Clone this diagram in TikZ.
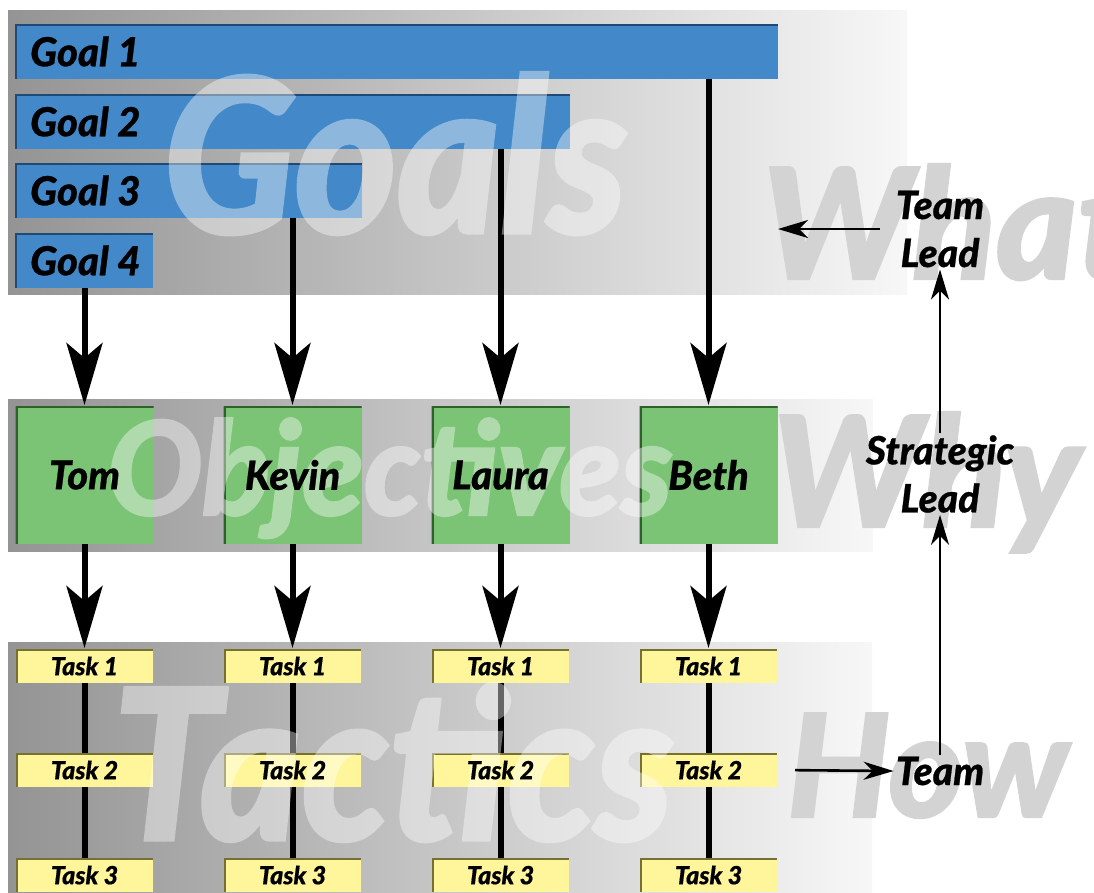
\documentclass[tikz,border=0pt]{standalone}
\usepackage{fontspec}
\newfontfamily\lblfont{Lato Black Italic}[FakeBold=0.6]
\newfontfamily\wmfont{Lato Black Italic}[FakeBold=1.6]
\usetikzlibrary{arrows.meta}
\definecolor{goalblue}{HTML}{4388C8}
\definecolor{goaledge}{HTML}{1E4A75}
\definecolor{objgreen}{HTML}{7BC475}
\definecolor{objedge}{HTML}{2F5F2B}
\definecolor{taskyellow}{HTML}{FFF59B}
\definecolor{taskedge}{HTML}{77712F}
\definecolor{wmgrey}{HTML}{D3D3D3}
\newcommand{\hs}[2]{\scalebox{#1}[1]{#2}}
\begin{document}
\begin{tikzpicture}[x=1pt,y=-1pt,
  band/.style={left color=black!42, middle color=black!13, right color=white!97!black},
  boxbase/.style={inner sep=0pt, outer sep=0pt, draw=none},
  edged/.style={path picture={\draw[line width=4pt,#1]
      (path picture bounding box.south west) -- (path picture bounding box.north west)
      -- (path picture bounding box.north east);}},
  goalbox/.style={boxbase, fill=goalblue, edged=goaledge, minimum height=55pt},
  objbox/.style={boxbase, fill=objgreen, edged=objedge, minimum width=138pt, minimum height=138pt},
  taskbox/.style={boxbase, fill=taskyellow, edged=taskedge, minimum width=137pt, minimum height=34pt},
  lbl/.style={inner sep=0pt, font=\lblfont\fontsize{40}{44}\selectfont},
  tlbl/.style={inner sep=0pt, font=\lblfont\fontsize{25}{28}\selectfont},
  side/.style={inner sep=2pt, align=center, font=\lblfont\fontsize{39}{48}\selectfont},
  wmwhite/.style={inner sep=0pt, anchor=base west, text=white},
  wmg/.style={inner sep=0pt, anchor=base west, text=wmgrey},
  bigarrow/.style={line width=6pt, -{Stealth[length=62pt,width=36pt,inset=15pt]}, shorten >=1pt},
  stem/.style={line width=6pt},
  thinarrow/.style={line width=2.6pt, -{Stealth[length=30pt,width=18pt,inset=9pt]}}
]
\useasboundingbox (0,0) rectangle (1094,892);
\clip (0,0) rectangle (1094,892);
% bands
\shade[band] (8,10) rectangle (907,294);
\shade[band] (8,399) rectangle (873,551);
\shade[band] (8,642) rectangle (872,892);
% goal bars
\node[goalbox, minimum width=763pt] (goal1) at (396.5,51.5) {};
\node[goalbox, minimum width=555pt] (goal2) at (292.5,121.5) {};
\node[goalbox, minimum width=347pt] (goal3) at (188.5,190.5) {};
\node[goalbox, minimum width=138pt] (goal4) at (84,260.5) {};
% objective boxes
\foreach \n/\x in {tom/84.5, kevin/292.5, laura/500.5, beth/708.5}{
  \node[objbox] (\n) at (\x,475) {};
  \node[taskbox] (\n1) at (\x,666) {};
  \node[taskbox] (\n2) at (\x,770) {};
  \node[taskbox] (\n3) at (\x,875) {};
}
% connectors
\draw[bigarrow] (goal4.south -| tom.north) -- (tom.north);
\draw[bigarrow] (goal3.south -| kevin.north) -- (kevin.north);
\draw[bigarrow] (goal2.south -| laura.north) -- (laura.north);
\draw[bigarrow] (goal1.south -| beth.north) -- (beth.north);
\foreach \n in {tom,kevin,laura,beth}{
  \draw[bigarrow] (\n.south) -- (\n1.north);
  \draw[stem] (\n1.south) -- (\n2.north);
  \draw[stem] (\n2.south) -- (\n3.north);
}
% watermarks
\begin{scope}[transparency group, opacity=0.4]
\node[wmwhite, font=\wmfont\fontsize{215}{215}\selectfont] (wgoals) at (163,233) {\hs{0.91}{Goals}};
\end{scope}
\begin{scope}[transparency group, opacity=0.4]
\node[wmwhite, font=\wmfont\fontsize{130}{130}\selectfont] (wobj) at (107,515) {\hs{0.97}{Objectives}};
\end{scope}
\begin{scope}[transparency group, opacity=0.4]
\node[wmwhite, font=\wmfont\fontsize{210}{210}\selectfont] (wtac) at (112,840) {\hs{0.92}{Tactics}};
\end{scope}
\node[wmg, font=\wmfont\fontsize{154}{154}\selectfont] (wwhat) at (762,279) {What};
\node[wmg, font=\wmfont\fontsize{154}{154}\selectfont] (wwhy) at (772,527) {Why};
\node[wmg, font=\wmfont\fontsize{143}{143}\selectfont] (whow) at (787,817) {How};
% labels on boxes
\node[lbl, anchor=west] (g1t) at ([xshift=15pt]goal1.west) {Goal 1};
\node[lbl, anchor=west] (g2t) at ([xshift=15pt]goal2.west) {Goal 2};
\node[lbl, anchor=west] (g3t) at ([xshift=15pt]goal3.west) {Goal 3};
\node[lbl, anchor=west] (g4t) at ([xshift=15pt]goal4.west) {Goal 4};
\node[lbl] (tomt) at (tom.center) {Tom};
\node[lbl] (kevint) at (kevin.center) {Kevin};
\node[lbl] (laurat) at (laura.center) {Laura};
\node[lbl] (betht) at (beth.center) {Beth};
\foreach \n in {tom,kevin,laura,beth}{
  \node[tlbl] (\n1t) at (\n1.center) {Task 1};
  \node[tlbl] (\n2t) at (\n2.center) {Task 2};
  \node[tlbl] (\n3t) at (\n3.center) {Task 3};
}
% right column
\node[side] (teamlead) at (940,229) {Team\\Lead};
\node[side] (strat) at (940,474) {Strategic\\Lead};
\node[side] (team) at (940,771) {Team};
\draw[thinarrow] (team.north) -- (strat.south);
\draw[thinarrow] (strat.north) -- (teamlead.south);
\draw[thinarrow, shorten <=14pt] (teamlead.west) -- (teamlead.west -| goal1.east);
\draw[thinarrow, shorten <=18pt] (beth2.east) -- (team.west);
\end{tikzpicture}
\end{document}
